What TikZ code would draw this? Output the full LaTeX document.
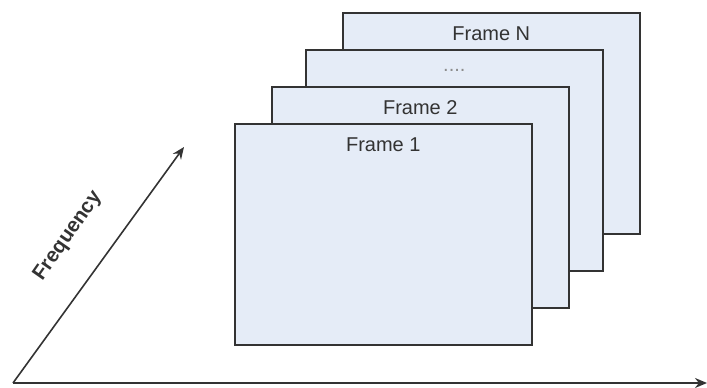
\documentclass[tikz,border=0pt]{standalone}
\usepackage{fontspec}
\setmainfont{Liberation Sans}
\usetikzlibrary{arrows.meta,shadows}
\begin{document}
\begin{tikzpicture}[x=1pt,y=1pt,
  framebox/.style={draw=black!80, line width=1.6pt, fill=framefill, anchor=south west,
    minimum width=297pt, minimum height=221pt, inner sep=0pt,
    drop shadow={shadow xshift=1.2pt, shadow yshift=-1.2pt, fill=black!35, opacity=0.6}},
  framelabel/.style={font=\fontsize{20}{23}\selectfont, text=black!80, anchor=center},
  axis/.style={line width=1.6pt, draw=black!80, -{Stealth[length=12pt,width=10pt]}}
]
\definecolor{framefill}{HTML}{E5ECF7}
\useasboundingbox (0,0) rectangle (707,388);
\node[framebox] (fN) at (342,153) {};
\node[framelabel] (lN) at ([yshift=-21pt]fN.north) {Frame N};
\node[framebox] (fD) at (305,116) {};
\node[framelabel, text=black!45] (lD) at ([yshift=-21pt]fD.north) {....};
\node[framebox] (f2) at (271,79) {};
\node[framelabel] (l2) at ([yshift=-21pt]f2.north) {Frame 2};
\node[framebox] (f1) at (234,42) {};
\node[framelabel] (l1) at ([yshift=-21pt]f1.north) {Frame 1};
\coordinate (o) at (13,5);
\coordinate (xe) at (707,5);
\coordinate (fe) at (184,241);
\draw[axis] (o) -- (xe);
\draw[axis] (o) -- (fe);
\node[font=\fontsize{20.5}{24}\selectfont\bfseries, text=black!80, rotate=55, inner sep=0pt] (fl) at (68,152) {Frequency};
\end{tikzpicture}
\end{document}
